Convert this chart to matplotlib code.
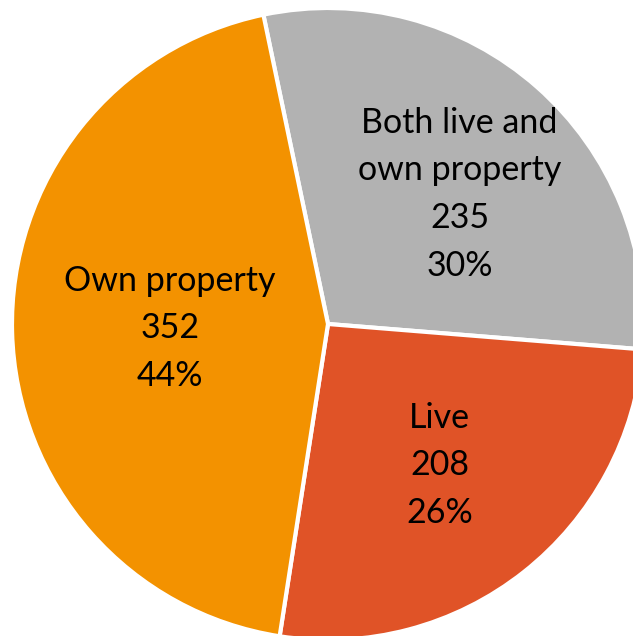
import numpy as np
import matplotlib.pyplot as plt

labels = ["Both live and\nown property", "Live", "Own property"]
counts = [235, 208, 352]
percents = [30, 26, 44]
colors = ["#b2b2b2", "#e05327", "#f39200"]

fig = plt.figure(figsize=(6.33, 6.36), dpi=100)
ax = fig.add_axes([12 / 633, -4 / 636, 632 / 633, 632 / 636])
ax.axis("off")

wedges, _ = ax.pie(counts, colors=colors, startangle=101.8, counterclock=False,
                   radius=1, wedgeprops=dict(edgecolor="white", linewidth=3),
                   frame=False)
ax.set_xlim(-1, 1)
ax.set_ylim(-1, 1)

# label distance from centre and angle shift per slice
dist = [0.585, 0.57, 0.50]
shift = [-4, 0, 0]
for w, lab, n, p, d, s in zip(wedges, labels, counts, percents, dist, shift):
	ang = np.deg2rad((w.theta1 + w.theta2) / 2 + s)
	ax.text(d * np.cos(ang), d * np.sin(ang), f"{lab}\n{n}\n{p}%",
	        ha="center", va="center", fontsize=24.5, family="Lato",
	        linespacing=1.6, color="black")

fig.savefig("out.png", dpi=100)
